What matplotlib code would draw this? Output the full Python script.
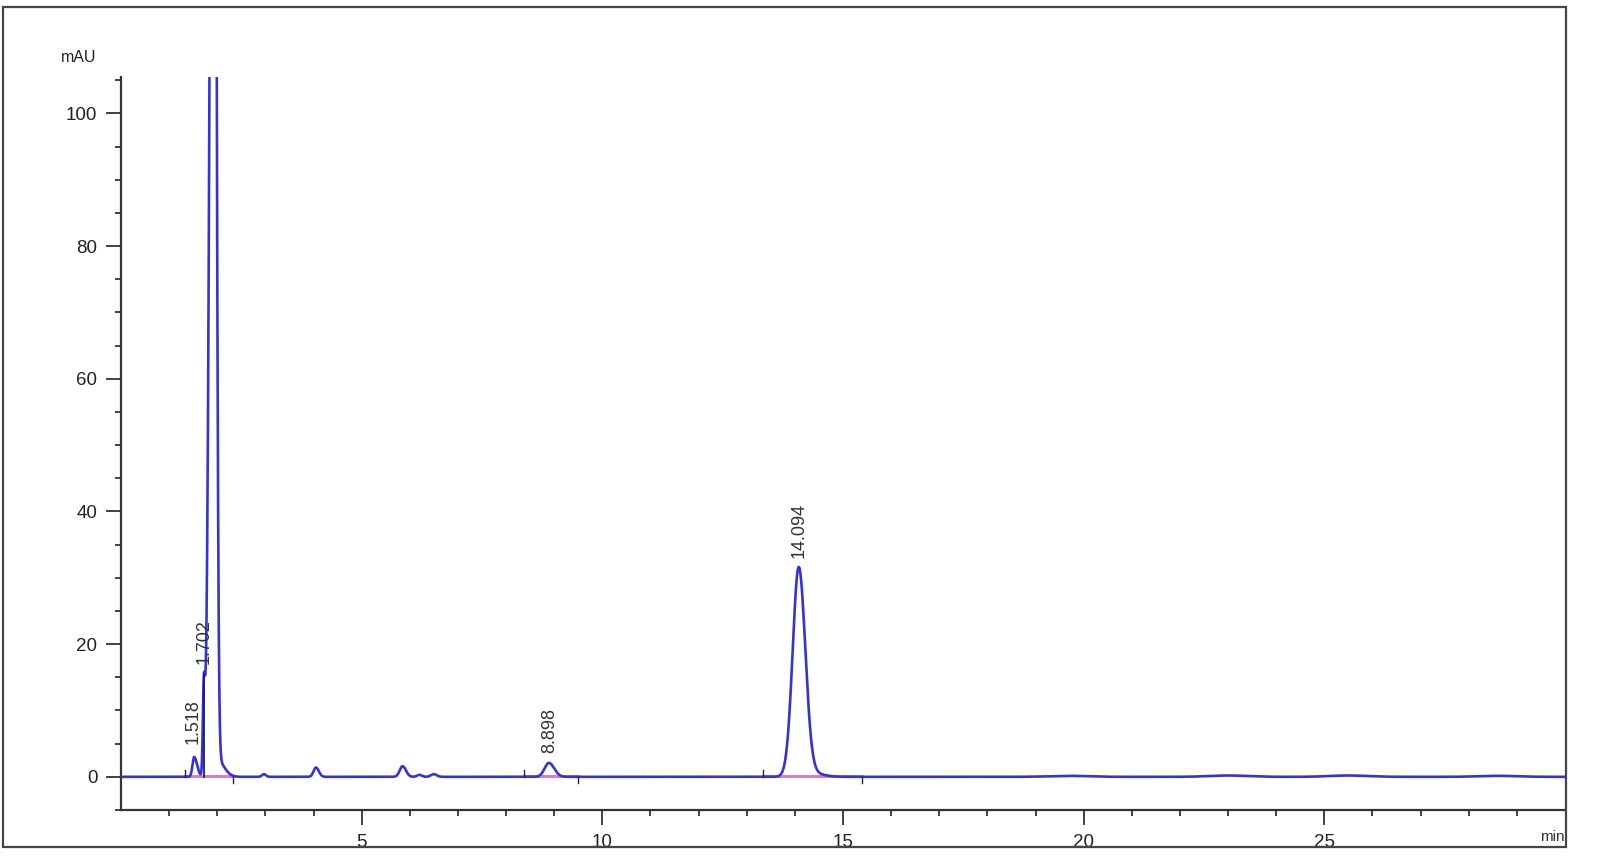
import matplotlib
matplotlib.use('Agg')
import matplotlib.pyplot as plt
import matplotlib.patches as patches
import numpy as np

plt.rcParams['font.family'] = ['Liberation Sans', 'DejaVu Sans']

# peaks: retention time (min), height (mAU), left/right width (min)
peak_times = [1.52, 1.72, 1.93, 2.00, 2.97, 4.05, 5.85, 6.20, 6.50, 8.89, 14.08, 14.30, 19.7, 23.0, 25.5, 28.6]
peak_heights = [3.0, 12.5, 250.0, 2.5, 0.4, 1.4, 1.6, 0.3, 0.4, 2.1, 31.3, 0.6, 0.15, 0.2, 0.2, 0.15]
peak_sig_left = [0.035, 0.02, 0.07, 0.10, 0.04, 0.05, 0.06, 0.05, 0.06, 0.09, 0.125, 0.2, 0.4, 0.4, 0.4, 0.4]
peak_sig_right = [0.06, 0.025, 0.045, 0.14, 0.04, 0.06, 0.07, 0.05, 0.06, 0.11, 0.135, 0.25, 0.4, 0.4, 0.4, 0.4]

# labelled peaks
label_times = [1.50, 1.72, 8.898, 14.094]
label_heights = [3.5, 15.5, 2.1, 31.5]
label_texts = ['1.518', '1.702', '8.898', '14.094']

# integration events (start / end of baseline segments)
event_start = [1.33, 8.38, 13.34]
event_end = [2.32, 9.50, 15.39]

t = np.linspace(0, 30, 12001)
signal = np.zeros_like(t)
for rt, h, sl, sr in zip(peak_times, peak_heights, peak_sig_left, peak_sig_right):
    s = np.where(t < rt, sl, sr)
    signal += h * np.exp(-0.5 * ((t - rt) / s) ** 2)

fig = plt.figure(figsize=(16, 8.57), dpi=100)
ax = fig.add_axes([121 / 1600, 47 / 857, (1565 - 121) / 1600, (810 - 77) / 857])

# magenta integration baselines
for s0, s1 in zip(event_start, event_end):
    ax.plot([s0, s1], [0.1, 0.1], color='#f070d0', lw=2.2, zorder=2)

ax.plot(t, signal, color='#3434d6', lw=1.9, zorder=3)

# drop line of the 1.702 shoulder
ax.plot([1.72, 1.72], [0, 15.5], color='#1c1c6a', lw=1.3, zorder=4)

for s0, s1 in zip(event_start, event_end):
    ax.plot([s0, s0], [0, 1.0], color='#222244', lw=1.0, zorder=4)
    ax.plot([s1, s1], [0, -1.0], color='#222244', lw=1.0, zorder=4)

for x, h, txt in zip(label_times, label_heights, label_texts):
    ax.annotate(txt, xy=(x, h), xytext=(0, 7), textcoords='offset points',
                rotation=90, ha='center', va='bottom', fontsize=13, color='#333333')

ax.set_xlim(0, 30)
ax.set_ylim(-5, 105.5)
ax.set_xticks([5, 10, 15, 20, 25])
ax.set_xticks(np.arange(1, 30), minor=True)
ax.set_yticks([0, 20, 40, 60, 80, 100])
ax.set_yticks(np.arange(-5, 106, 5), minor=True)

for side in ['top', 'right']:
    ax.spines[side].set_visible(False)
for side in ['left', 'bottom']:
    ax.spines[side].set_color('#333333')
    ax.spines[side].set_linewidth(1.6)

ax.tick_params(which='major', length=11, width=1.3, color='#333333', labelsize=13.5,
               labelcolor='#222222', pad=6)
ax.tick_params(which='minor', length=4, width=1.3, color='#333333')

ax.text(1.0, -0.037, 'min', transform=ax.transAxes, ha='right', va='center',
        fontsize=11, color='#333333')
fig.text(79 / 1600, 1 - 58 / 857, 'mAU', ha='center', va='center', fontsize=11.5, color='#222222')

frame = patches.Rectangle((3 / 1600, 10 / 857), 1563 / 1600, 840 / 857, transform=fig.transFigure,
                          fill=False, edgecolor='#444444', lw=1.6)
fig.patches.append(frame)

fig.savefig('out.png', dpi=100)
